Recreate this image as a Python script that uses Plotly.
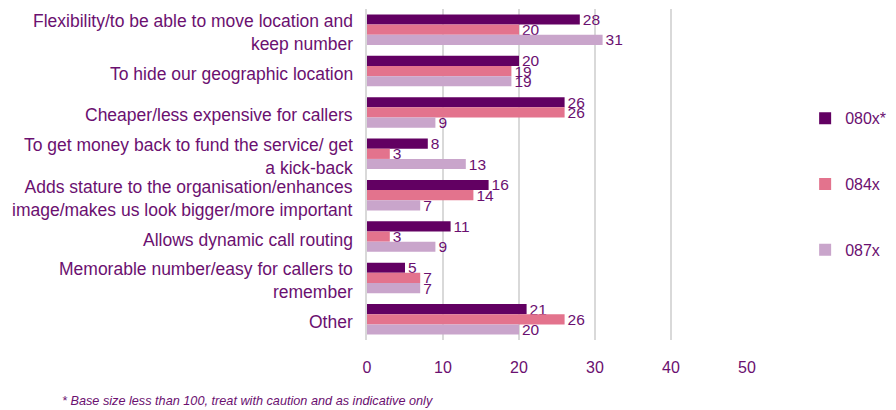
import plotly.graph_objects as go

categories = [
    "Flexibility/to be able to move location and<br>keep number",
    "To hide our geographic location",
    "Cheaper/less expensive for callers",
    "To get money back to fund the service/ get<br>a kick-back",
    "Adds stature to the organisation/enhances<br>image/makes us look bigger/more important",
    "Allows dynamic call routing",
    "Memorable number/easy for callers to<br>remember",
    "Other",
]
series_names = ["080x*", "084x", "087x"]
v080 = [28, 20, 26, 8, 16, 11, 5, 21]
v084 = [20, 19, 26, 3, 14, 3, 7, 26]
v087 = [31, 19, 9, 13, 7, 9, 7, 20]
tick_vals = [0, 10, 20, 30, 40, 50]
footnote = "* Base size less than 100, treat with caution and as indicative only"

colors = ["#620062", "#e3738d", "#c9a5cb"]
text_color = "#6b1070"
font_family = "Liberation Sans, Arial, sans-serif"

fig = go.Figure()
for name, vals, col in zip(series_names, [v080, v084, v087], colors):
    fig.add_trace(go.Bar(
        y=categories, x=vals, name=name, orientation="h",
        marker=dict(color=col, line=dict(width=0)),
        text=[str(v) for v in vals], textposition="outside",
        textfont=dict(size=15.5, color=text_color, family=font_family),
        constraintext="none", cliponaxis=False,
        legendgroup=name,
    ))

# category labels, placed on the category axis, nudged slightly downward
annotations = [dict(text=c, xref="paper", yref="y", x=-0.0316, y=c,
                    xanchor="right", yanchor="middle", align="right",
                    yshift=-3, showarrow=False,
                    font=dict(size=17.5, color=text_color, family=font_family))
               for c in categories]
annotations.append(dict(text="<i>" + footnote + "</i>", xref="paper", yref="paper",
                        x=-0.808, y=-0.185, xanchor="left", yanchor="middle",
                        showarrow=False,
                        font=dict(size=12.7, color=text_color, family=font_family)))

# page body adds an 8px offset; figure sized to compensate
fig.update_layout(
    width=888, height=402,
    margin=dict(l=359, r=149, t=1, b=70, autoexpand=False),
    barmode="group", bargap=0.26, bargroupgap=0,
    plot_bgcolor="white", paper_bgcolor="white",
    font=dict(family=font_family, color=text_color, size=17.5),
    xaxis=dict(range=[0, 50], tickvals=tick_vals, showgrid=True,
               gridcolor="#d9d9d9", gridwidth=2, zeroline=False,
               tickfont=dict(size=16, color=text_color), ticks="",
               showline=False, ticklabelstandoff=16, automargin=False),
    yaxis=dict(range=[len(categories) - 0.5, -0.5], autorange=False,
               showgrid=False, ticks="",
               showline=True, linecolor="#d9d9d9", linewidth=2,
               showticklabels=False, automargin=False),
    legend=dict(x=1.153, y=0.721, xanchor="left", yanchor="top",
                font=dict(size=16, color=text_color),
                tracegroupgap=42, itemwidth=30, bgcolor="rgba(0,0,0,0)"),
    annotations=annotations,
)

fig.write_html("out.html")
